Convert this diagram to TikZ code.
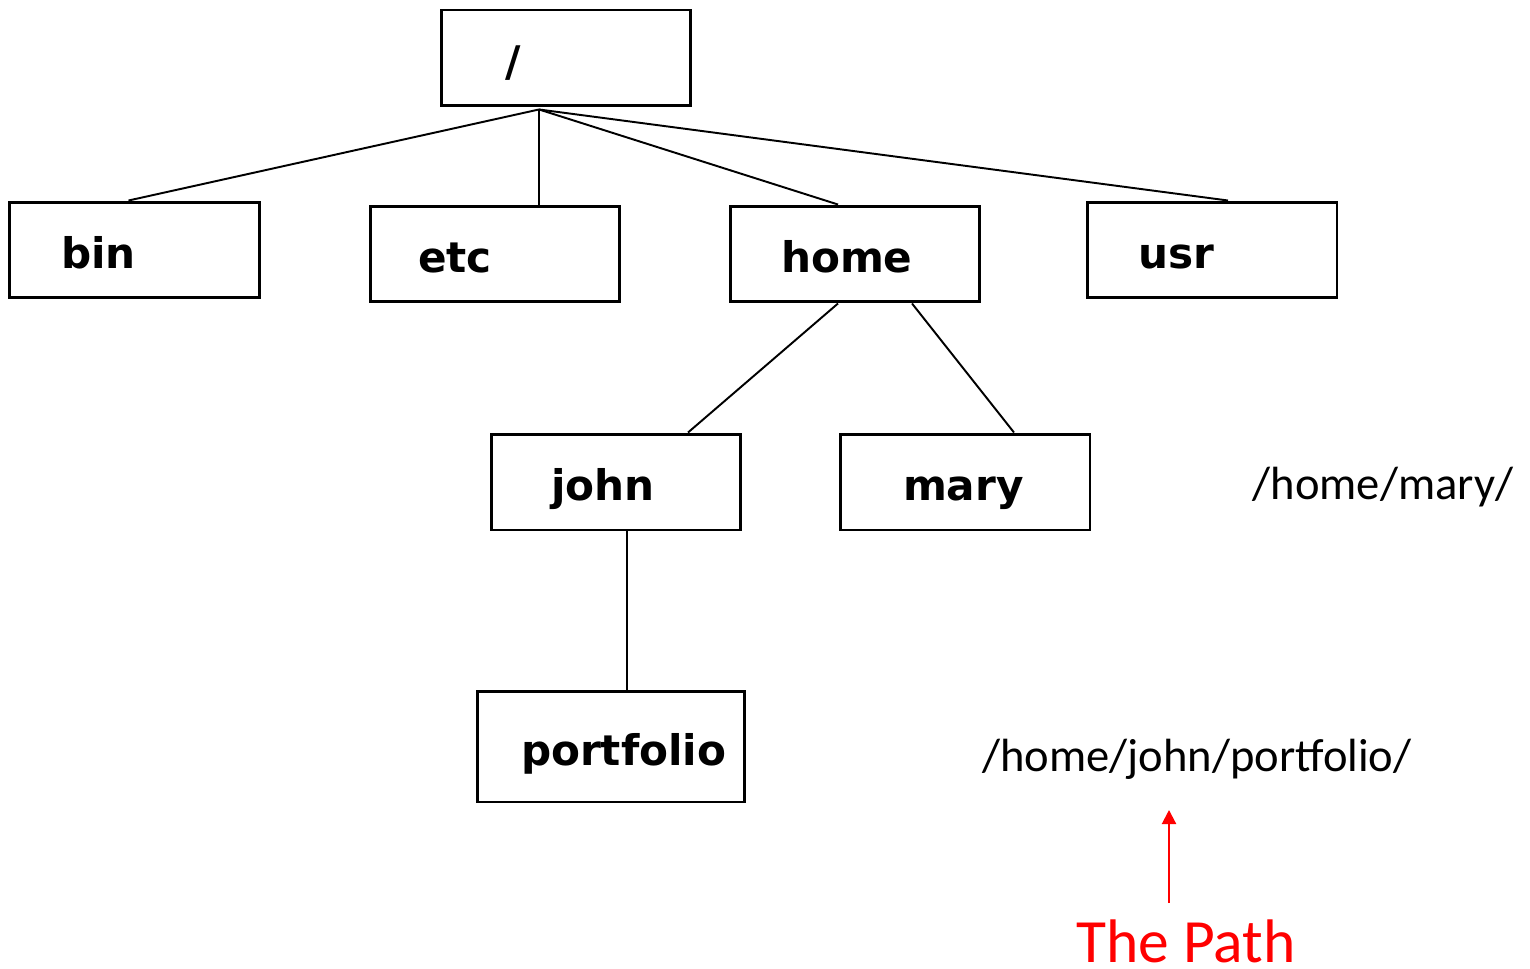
\documentclass[tikz,border=0pt]{standalone}
\usepackage{fontspec}
\newfontfamily\dirfont{DejaVu Sans}
\newfontfamily\pathfont{Carlito}
\usetikzlibrary{arrows.meta,positioning,calc}

% left-aligned label inside a directory box
\newcommand{\dlabel}[2][2.96cm]{\makebox[#1][l]{#2}}

\begin{document}
\begin{tikzpicture}[
    x=0.02cm, y=-0.02cm,
    dir/.style={rectangle, draw=black, line width=1.7pt, minimum width=5cm, minimum height=1.92cm,
                inner sep=0pt, text height=23pt, text depth=1.4pt,
                font=\dirfont\bfseries\fontsize{24}{28}\selectfont},
    link/.style={line width=1.1pt, black},
    pathtext/.style={font=\pathfont\fontsize{26.5}{32}\selectfont, inner sep=0pt},
    redtext/.style={font=\pathfont\fontsize{35}{42}\selectfont, text=red, inner sep=0pt,
                    text height=25pt, text depth=0pt},
    patharrow/.style={-{Triangle[length=8pt,width=8pt]}, line width=1.2pt, red},
]
    \useasboundingbox (0,0) rectangle (1530,969);

    % directory tree
    \node[dir] (root) at (566,58) {\dlabel[2.44cm]{/}};
    \node[dir] (bin) at (134.5,250) {\dlabel[2.94cm]{bin}};
    \node[dir] (etc) at (495,254) {\dlabel[3.08cm]{etc}};
    \node[dir] (home) at (855,254) {\dlabel{home}};
    \node[dir] (usr) at (1212,250) {\dlabel{usr}};
    \node[dir] (john) at (616,482) {\dlabel[2.6cm]{john}};
    \node[dir] (mary) at (965,482) {\dlabel[2.48cm]{mary}};
    \node[dir, minimum width=5.36cm, minimum height=2.22cm] (portfolio) at (611,746.5) {\dlabel[3.6cm]{portfolio}};

    \coordinate (hub) at ($(root.south)+(-27,2)$);
    \draw[link] (hub) -- ($(bin.north)+(-6,0)$);
    \draw[link] (hub) -- (hub |- etc.north);
    \draw[link] (hub) -- ($(home.north)+(-17,0)$);
    \draw[link] (hub) -- ($(usr.north)+(16,0)$);
    \draw[link] ($(home.south)+(-17,0)$) -- ($(john.north)+(72,0)$);
    \draw[link] ($(home.south)+(57,0)$) -- ($(mary.north)+(49,0)$);
    \draw[link] ($(john.south)+(11,0)$) -- ($(portfolio.north)+(16,0)$);

    % paths
    \node[pathtext] (marypath) at (1383,487) {/home/mary/};
    \node[pathtext] (johnpath) at (1197,759) {/home/john/portfolio/};
    \node[redtext] (thepath) at (1186,941) {The Path};

    \coordinate (tail) at (1169,903);
    \coordinate (tip) at (1169,810);
    \draw[patharrow] (tail) -- (tip);
\end{tikzpicture}
\end{document}
